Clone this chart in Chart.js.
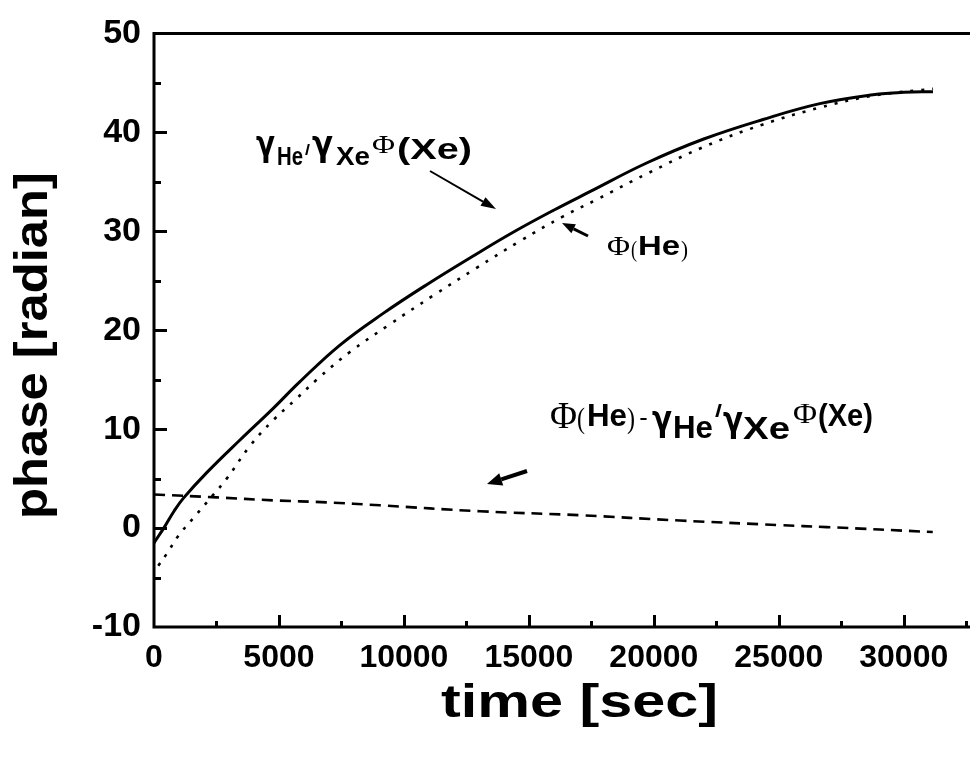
<!DOCTYPE html>
<html><head><meta charset="utf-8">
<script src="https://cdn.jsdelivr.net/npm/chart.js@4.4.1/dist/chart.umd.min.js"></script>
<style>html,body{margin:0;padding:0;background:#fff;overflow:hidden}canvas{display:block}</style>
</head><body>
<canvas id="c" width="970" height="758"></canvas>
<script>
// ---- data ----
const xTickLabels = ['0','5000','10000','15000','20000','25000','30000'];
const yTickLabels = ['-10','0','10','20','30','40','50'];

// gamma_He/gamma_Xe * Phi(Xe)  (solid)
const ratioTime  = [0, 440, 800, 1170, 2110, 3440, 4770, 5840, 7440, 9170, 10910, 12770, 14370, 15970, 17440, 19710, 21970, 24370, 26640, 28770, 30000, 31170];
const ratioPhase = [-1.5, 0.2, 1.7, 3.0, 5.6, 8.9, 12.1, 14.8, 18.5, 21.7, 24.6, 27.5, 29.9, 32.1, 34.0, 36.9, 39.3, 41.3, 42.9, 43.8, 44.05, 44.1];

// Phi(He)  (dotted)
const heTime  = [170, 510, 970, 1570, 2350, 2910, 3840, 4770, 5710, 6510, 7840, 9440, 11170, 12910, 14640, 16370, 17710, 19710, 21970, 24370, 26640, 28770, 31170];
const hePhase = [-3.8, -2.6, -0.8, 1.0, 3.3, 5.0, 8.3, 10.9, 13.1, 15.0, 17.8, 20.6, 23.5, 26.3, 29.0, 31.5, 33.2, 35.8, 38.5, 40.8, 42.5, 43.7, 44.4];

// Phi(He) - gamma_He/gamma_Xe * Phi(Xe)  (dashed)
const diffTime  = [0, 2510, 4770, 6910, 9040, 13040, 17040, 21040, 25040, 26910, 31160];
const diffPhase = [3.4, 3.1, 2.8, 2.6, 2.3, 1.7, 1.3, 0.76, 0.3, 0.1, -0.4];

const toPts = (xs, ys) => xs.map((x, i) => ({x: x, y: ys[i]}));

const SANS = '"Liberation Sans", Arial, sans-serif';
const SERIF = '"Liberation Serif", "Times New Roman", serif';
const GREEK = '"DejaVu Sans", sans-serif';

function fitText(ctx, text, x0, x1, baseline, font) {
  ctx.save();
  ctx.font = font; ctx.textAlign = 'left'; ctx.textBaseline = 'alphabetic'; ctx.fillStyle = '#000';
  const w = ctx.measureText(text).width;
  ctx.translate(x0, baseline); ctx.scale((x1 - x0) / w, 1);
  ctx.fillText(text, 0, 0);
  ctx.restore();
}
function arrow(ctx, x0, y0, x1, y1, lw, hl, hw) {
  const a = Math.atan2(y1 - y0, x1 - x0);
  const bx = x1 - hl * Math.cos(a), by = y1 - hl * Math.sin(a);
  ctx.save(); ctx.strokeStyle = '#000'; ctx.fillStyle = '#000'; ctx.lineWidth = lw; ctx.setLineDash([]);
  ctx.beginPath(); ctx.moveTo(x0, y0); ctx.lineTo(bx, by); ctx.stroke();
  ctx.beginPath(); ctx.moveTo(x1, y1);
  ctx.lineTo(bx + hw / 2 * Math.sin(a), by - hw / 2 * Math.cos(a));
  ctx.lineTo(bx - hw / 2 * Math.sin(a), by + hw / 2 * Math.cos(a));
  ctx.closePath(); ctx.fill(); ctx.restore();
}

const frame = {
  id: 'frame',
  afterDatasetsDraw(chart) {
    const {ctx, chartArea: ca, scales: {x, y}} = chart;
    ctx.save();
    ctx.strokeStyle = '#000'; ctx.lineWidth = 3; ctx.setLineDash([]); ctx.lineCap = 'butt';
    ctx.beginPath();
    ctx.moveTo(ca.left, ca.top); ctx.lineTo(ca.left, ca.bottom + 1.5);
    ctx.moveTo(ca.left - 1.5, ca.bottom); ctx.lineTo(ca.right, ca.bottom);
    ctx.moveTo(ca.left - 1.5, ca.top); ctx.lineTo(ca.right, ca.top);
    ctx.stroke();
    // inward ticks
    ctx.beginPath();
    for (let v = -5; v < 50; v += 5) {
      const py = Math.round(y.getPixelForValue(v)) + 0.5;
      const len = (v % 10 === 0) ? 13 : 7;
      ctx.moveTo(ca.left, py); ctx.lineTo(ca.left + len, py);
    }
    for (let v = 2500; v <= 32500; v += 2500) {
      const px = Math.round(x.getPixelForValue(v)) + 0.5;
      const len = (v % 5000 === 0) ? 12 : 6;
      ctx.moveTo(px, ca.bottom); ctx.lineTo(px, ca.bottom - len);
    }
    ctx.stroke();
    ctx.restore();

    // arrows
    arrow(ctx, 430, 171, 496, 209, 2, 15, 10);
    arrow(ctx, 588, 236, 562, 223, 3, 13, 10);
    arrow(ctx, 527, 471, 487, 484, 4, 15, 13);

    // annotation 1: gamma_He/gamma_Xe Phi(Xe)
    fitText(ctx, 'γ', 256, 275, 156, 'bold 36px ' + GREEK);
    fitText(ctx, 'He', 277, 303, 165, 'bold 25px ' + SANS);
    fitText(ctx, '/', 305, 310, 155, 'bold 15px ' + SANS);
    fitText(ctx, 'γ', 312, 333, 156, 'bold 36px ' + GREEK);
    fitText(ctx, 'Xe', 336, 370, 165, 'bold 25px ' + SANS);
    fitText(ctx, 'Φ', 372, 395, 153, '26px ' + SERIF);
    fitText(ctx, '(Xe)', 397, 472, 159, 'bold 30px ' + SANS);

    // annotation 2: Phi(He)
    fitText(ctx, 'Φ', 607, 630, 255, '28px ' + SERIF);
    fitText(ctx, '(', 631, 637, 257, '24px ' + SERIF);
    fitText(ctx, 'He', 638, 680, 255, 'bold 27px ' + SANS);
    fitText(ctx, ')', 681, 688, 257, '24px ' + SERIF);

    // annotation 3: Phi(He) - gamma_He/gamma_Xe Phi(Xe)
    fitText(ctx, 'Φ', 550, 577, 428, '37px ' + SERIF);
    fitText(ctx, '(', 577, 585, 428, '30px ' + SERIF);
    fitText(ctx, 'He', 587, 627, 426, 'bold 32px ' + SANS);
    fitText(ctx, ')', 627, 635, 428, '30px ' + SERIF);
    fitText(ctx, '–', 640, 647, 424, 'bold 20px ' + SANS);
    fitText(ctx, 'γ', 652, 672, 431, 'bold 36px ' + GREEK);
    fitText(ctx, 'He', 673, 713, 438, 'bold 32px ' + SANS);
    fitText(ctx, '/', 715, 722, 417, 'bold 19px ' + SANS);
    fitText(ctx, 'γ', 723, 743, 432, 'bold 36px ' + GREEK);
    fitText(ctx, 'Xe', 743, 790, 439, 'bold 32px ' + SANS);
    fitText(ctx, 'Φ', 793, 817, 423, '30px ' + SERIF);
    fitText(ctx, '(Xe)', 818, 873, 426, 'bold 32px ' + SANS);

    // axis titles
    fitText(ctx, 'time [sec]', 441, 718, 717, 'bold 47px ' + SANS);
    ctx.save();
    ctx.translate(47, 346); ctx.rotate(-Math.PI / 2);
    fitText(ctx, 'phase [radian]', -173, 174, 0, 'bold 47px ' + SANS);
    ctx.restore();
  }
};

new Chart(document.getElementById('c'), {
  type: 'scatter',
  data: {
    datasets: [
      { label: 'γHe/γXe Φ(Xe)', data: toPts(ratioTime, ratioPhase), showLine: true, pointRadius: 0,
        borderColor: '#000', borderWidth: 3, tension: 0.4 },
      { label: 'Φ(He)', data: toPts(heTime, hePhase), showLine: true, pointRadius: 0,
        borderColor: '#000', borderWidth: 2.6, borderDash: [3, 8], tension: 0.4 },
      { label: 'Φ(He) − γHe/γXe Φ(Xe)', data: toPts(diffTime, diffPhase), showLine: true, pointRadius: 0,
        borderColor: '#000', borderWidth: 2.6, borderDash: [11, 7], tension: 0.4 }
    ]
  },
  options: {
    responsive: false, animation: false, devicePixelRatio: 1,
    layout: { padding: { top: 22, right: 0, bottom: 0, left: 0 } },
    plugins: { legend: { display: false }, tooltip: { enabled: false } },
    scales: {
      x: {
        type: 'linear', min: 0, max: 32650,
        grid: { display: false, drawTicks: false }, border: { display: false },
        afterBuildTicks: s => { s.ticks = xTickLabels.map(t => ({ value: Number(t) })); },
        ticks: { autoSkip: false, padding: 12, color: '#000', maxRotation: 0, minRotation: 0,
          font: { family: SANS, size: 32, weight: 'bold' },
          callback: (v, i) => xTickLabels[i] },
        afterFit: s => { s.height = 131; }
      },
      y: {
        type: 'linear', min: -10, max: 50,
        grid: { display: false, drawTicks: false }, border: { display: false },
        afterBuildTicks: s => { s.ticks = yTickLabels.map(t => ({ value: Number(t) })); },
        ticks: { padding: 13, color: '#000',
          font: { family: SANS, size: 34, weight: 'bold' },
          callback: (v, i) => yTickLabels[i] },
        afterFit: s => { s.width = 154; }
      }
    }
  },
  plugins: [frame]
});
</script>
</body></html>
